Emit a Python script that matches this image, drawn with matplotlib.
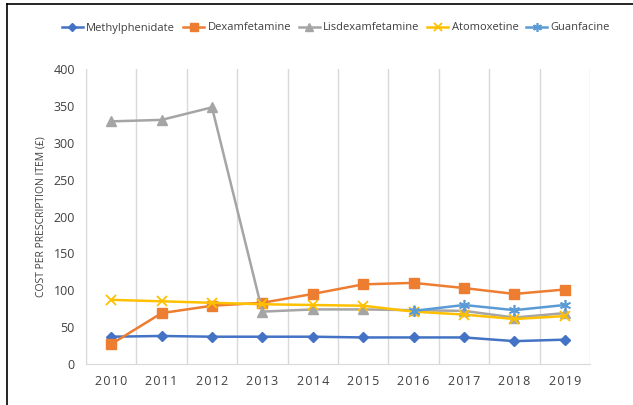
import matplotlib.pyplot as plt
from matplotlib.lines import Line2D
import numpy as np

plt.rcParams['font.family'] = ['Open Sans', 'DejaVu Sans']

years = ['2010', '2011', '2012', '2013', '2014', '2015', '2016', '2017', '2018', '2019']
methylphenidate = [37, 38, 37, 37, 37, 36, 36, 36, 31, 33]
dexamfetamine = [27, 69, 79, 83, 95, 108, 110, 103, 95, 101]
lisdexamfetamine = [329, 331, 348, 71, 74, 74, 73, 72, 63, 69]
atomoxetine = [87, 85, 83, 81, 80, 79, 71, 67, 61, 65]
guanfacine = [np.nan] * 6 + [72, 80, 73, 80]

fig = plt.figure(figsize=(6.33, 4.05), dpi=100)
ax = fig.add_axes([86 / 633, 1 - 364 / 405, (590 - 86) / 633, (364 - 69) / 405])

x = np.arange(len(years))
lw = 1.8
ax.plot(x, methylphenidate, color='#4472C4', marker='D', ms=5, lw=lw, label='Methylphenidate')
ax.plot(x, dexamfetamine, color='#ED7D31', marker='s', ms=7, lw=lw, label='Dexamfetamine')
ax.plot(x, lisdexamfetamine, color='#A5A5A5', marker='^', ms=7, lw=lw, label='Lisdexamfetamine')
ax.plot(x, atomoxetine, color='#FFC000', marker='x', ms=7, mew=1.3, lw=lw, label='Atomoxetine')
ax.plot(x, guanfacine, color='#5B9BD5', marker=(6, 2, 0), ms=8, mew=1.2, lw=lw, label='Guanfacine')

ax.set_xlim(-0.5, len(years) - 0.5)
ax.set_ylim(0, 400)
ax.set_yticks(range(0, 401, 50))
ax.set_xticks(x)
ax.set_xticklabels(['\u200a'.join(y) for y in years])
ax.set_xticks(np.arange(-0.5, len(years), 1), minor=True)
ax.grid(axis='x', which='minor', color='#D9D9D9', lw=1)
ax.tick_params(which='both', length=0)
ax.tick_params(axis='x', pad=8, labelsize=9, colors='#404040')
ax.tick_params(axis='y', pad=8, labelsize=9, colors='#404040')
for s in ['top', 'right']:
    ax.spines[s].set_visible(False)
for s in ['left', 'bottom']:
    ax.spines[s].set_color('#D9D9D9')
ax.set_ylabel('COST PER PRESCRIPTION ITEM (£)', fontsize=7.5, color='#404040', labelpad=5)

ax.legend(loc='center', bbox_to_anchor=(336 / 633, 1 - 28 / 405), bbox_transform=fig.transFigure,
          ncol=5, frameon=False, fontsize=8, handlelength=1.9, columnspacing=0.7, handletextpad=0.3,
          markerscale=0.8, labelcolor='#404040')

fig.add_artist(Line2D([7 / 633, 7 / 633], [0, 1 - 4 / 405], color='black', lw=1.2))
fig.add_artist(Line2D([7 / 633, 1], [1 - 4 / 405, 1 - 4 / 405], color='black', lw=1.2))

fig.savefig('out.png', dpi=100)
